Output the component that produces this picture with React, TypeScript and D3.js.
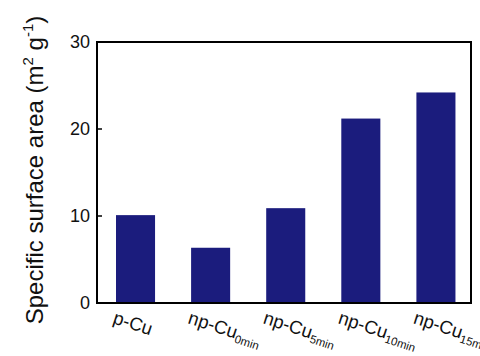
import React from "react";
import * as d3 from "d3";

const categories = ["p-Cu", "np-Cu", "np-Cu", "np-Cu", "np-Cu"];
const subscripts = ["", "0min", "5min", "10min", "15min"];
const values = [10.1, 6.35, 10.9, 21.2, 24.2];
const yTicks = [0, 10, 20, 30];

const W = 480;
const H = 356;
const left = 97;
const right = 471;
const top = 42;
const bottom = 303;

export default function App() {
  const x = d3
    .scaleBand<number>()
    .domain(values.map((_, i) => i))
    .range([left, right])
    .paddingInner(0.48)
    .paddingOuter(0.23)
    .align(0.55);
  const y = d3.scaleLinear().domain([0, 30]).range([bottom, top]);
  const font = "Liberation Sans, Arial, sans-serif";

  return (
    <svg
      width={W}
      height={H}
      style={{ position: "absolute", left: 0, top: 0, background: "#fff" }}
      fontFamily={font}
    >
      {values.map((v, i) => (
        <rect
          key={i}
          x={x(i)}
          y={y(v)}
          width={x.bandwidth()}
          height={y(0) - y(v)}
          fill="#1b1c7d"
        />
      ))}
      <rect
        x={left}
        y={top}
        width={right - left}
        height={bottom - top}
        fill="none"
        stroke="#000"
        strokeWidth={2}
      />
      {yTicks.map((t) => (
        <g key={t}>
          <line x1={left} x2={left + 5} y1={y(t)} y2={y(t)} stroke="#000" strokeWidth={1.5} />
          <text
            x={left - 7}
            y={y(t)}
            textAnchor="end"
            dominantBaseline="central"
            fontSize={18}
            fill="#111"
          >
            {t}
          </text>
        </g>
      ))}
      {categories.map((c, i) => {
        const sx = (x(i) as number) - 4;
        const sy = 323;
        return (
          <text
            key={i}
            x={sx}
            y={sy}
            fontSize={18.5}
            fill="#111"
            transform={`rotate(18, ${sx}, ${sy})`}
          >
            {c}
            {subscripts[i] ? (
              <tspan fontSize={11.5} dy={4}>
                {subscripts[i]}
              </tspan>
            ) : null}
          </text>
        );
      })}
      <text
        transform={`translate(43, 170) rotate(-90)`}
        textAnchor="middle"
        fontSize={24}
        fill="#111"
      >
        Specific surface area (m
        <tspan fontSize={15} dy={-10}>2</tspan>
        <tspan dy={10}> g</tspan>
        <tspan fontSize={15} dy={-10}>-1</tspan>
        <tspan dy={10}>)</tspan>
      </text>
    </svg>
  );
}
